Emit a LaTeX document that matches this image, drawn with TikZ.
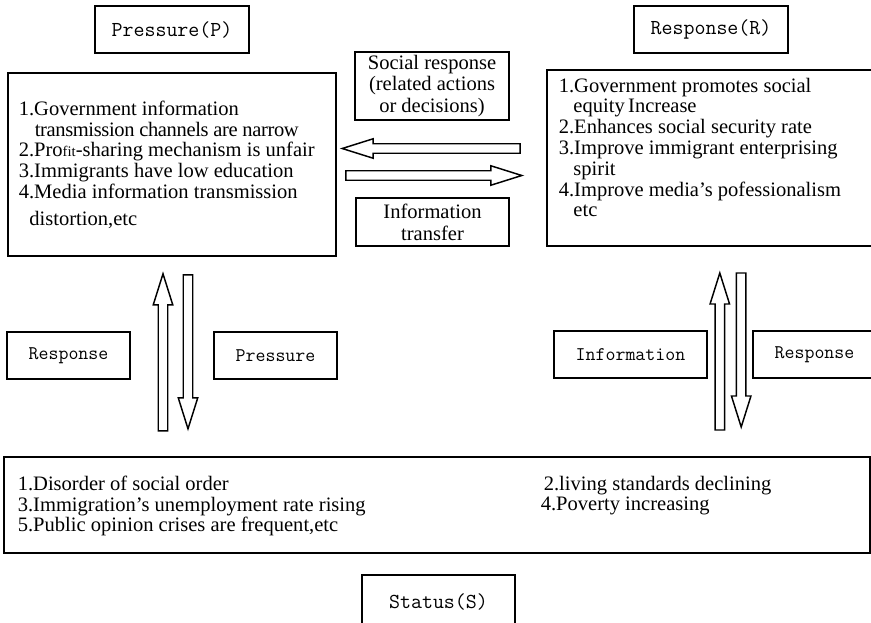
\documentclass[tikz,border=0pt]{standalone}
\usepackage{fontspec}
\setmainfont{Liberation Serif}
\usetikzlibrary{calc, positioning}

\begin{document}
\begin{tikzpicture}[
    x=0.75pt, y=-0.75pt,
    line width=1.2pt,
    box/.style={
        draw,
        rectangle,
        fill=white,
        inner sep=0pt
    },
    title/.style={
        box,
        font=\ttfamily\fontsize{16pt}{18pt}\selectfont,
        minimum width=115.5pt,
        minimum height=35.25pt
    },
    tag/.style={
        box,
        font=\ttfamily\fontsize{14.5pt}{16pt}\selectfont,
        minimum width=92.25pt,
        minimum height=35.25pt
    },
    note/.style={
        box,
        align=center,
        font=\fontsize{15.4pt}{16pt}\selectfont,
        minimum width=115.5pt
    },
    list/.style={
        anchor=north west,
        inner sep=0pt,
        align=left,
        font=\fontsize{15.4pt}{15.6pt}\selectfont
    },
    fatarrow/.pic={
        \draw [line width=1.1pt, fill=white]
            (0,-4.75) -- ({#1-31},-4.75) -- ({#1-31},-9.75) -- (#1,0)
            -- ({#1-31},9.75) -- ({#1-31},4.75) -- (0,4.75) -- cycle;
    }
]

    \useasboundingbox (0,0) rectangle (871,622);
    \clip (0,0) rectangle (871,622);

    % Main blocks
    \node [box, minimum width=246pt, minimum height=137.25pt] (pbox) at (172,164.5) {};
    \node [box, minimum width=253.5pt, minimum height=132pt] (rbox) at (716,158) {};
    \node [box, minimum width=649.5pt, minimum height=72pt] (sbox) at (437,505) {};

    % Titles
    \node [title] (ptitle) at (172,29.5) {Pressure(P)};
    \node [title] (rtitle) at (711,29.5) {Response(R)};
    \node [title, minimum width=114.75pt, minimum height=42pt] (stitle) at (438.5,603) {\raisebox{3pt}{Status(S)}};

    % Lists
    \node [list] (ptext) at (18,100) {1.Government information\\
        \hspace*{12pt}{\addfontfeature{LetterSpace=-1.8}transmission channels are narrow}\\
        2.Pro{\fontsize{11pt}{12pt}\selectfont fit}-sharing mechanism is unfair\\
        3.Immigrants have low education\\
        4.Media information transmission\\[4.5pt]
        \hspace*{8pt}distortion,etc};
    \node [list] (rtext) at (558,77) {1.Government promotes social\\
        \hspace*{11pt}equity\,Increase\\
        2.Enhances social security rate\\
        3.Improve immigrant enterprising\\
        \hspace*{11pt}spirit\\
        4.Improve media's pofessionalism\\
        \hspace*{11pt}etc};
    \node [list] (stext) at (17,475) {1.Disorder of social order\\
        3.Immigration's unemployment rate rising\\
        5.Public opinion crises are frequent,etc};
    \node [list] (stext2) at (543,475) {2.living standards declining\\
        \hspace*{-2.25pt}4.Poverty increasing};

    % Between P and R
    \node [note, minimum height=51pt] (social) at (432,86) {Social response\\(related actions\\or decisions)};
    \node [note, minimum width=114.75pt, minimum height=36pt, font=\fontsize{15.4pt}{16.5pt}\selectfont] (transfer) at (432.5,222) {Information\\transfer};

    \path ($(rbox.west)+(-26,-9.5)$) pic [rotate=180] {fatarrow=178};
    \path ($(pbox.east)+(9,11)$) pic {fatarrow=176};

    % Between P and S
    \node [tag] (lresp) at (68.5,355.5) {Response};
    \node [tag] (lpress) at (275.5,355.5) {Pressure};
    \path ($(pbox.south)+(-9,174)$) pic [rotate=90] {fatarrow=157};
    \path ($(pbox.south)+(16,18)$) pic [rotate=-90] {fatarrow=154};

    % Between R and S
    \node [tag, minimum width=114.75pt] (rinfo) at (630.5,354.5) {Information};
    \node [tag] (rresp) at (814.5,354.5) {Response};
    \path ($(rinfo.east)+(12,75.5)$) pic [rotate=90] {fatarrow=157};
    \path ($(rresp.west)+(-11,-81.5)$) pic [rotate=-90] {fatarrow=154};

\end{tikzpicture}
\end{document}
